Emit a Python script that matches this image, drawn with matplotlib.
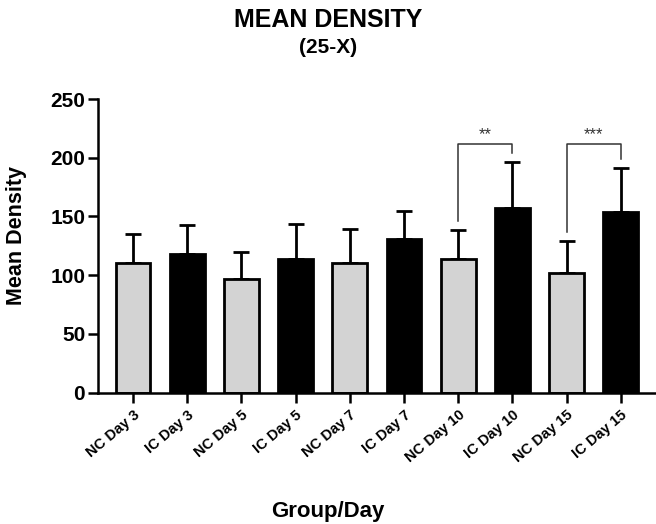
import matplotlib.pyplot as plt

groups = ['NC Day 3', 'IC Day 3', 'NC Day 5', 'IC Day 5', 'NC Day 7',
          'IC Day 7', 'NC Day 10', 'IC Day 10', 'NC Day 15', 'IC Day 15']
means = [110.6, 118.0, 96.8, 113.8, 110.6, 130.8, 113.5, 157.4, 102.1, 154.0]
sd = [24.2, 24.5, 22.9, 29.8, 28.4, 23.6, 25.0, 38.9, 27.0, 37.0]

# significance brackets: (left bar, right bar, top, left leg end, right leg end, label)
brackets = [(6, 7, 211.7, 146.4, 204.0, '**'),
            (8, 9, 211.7, 137.0, 198.9, '***')]

plt.rcParams['font.family'] = ['Liberation Sans', 'DejaVu Sans']
plt.rcParams['font.weight'] = 'bold'

fig = plt.figure(figsize=(6.56, 5.24), dpi=100)
ax = fig.add_axes([0.149, 0.2506, 0.851, 0.5604])

colors = ['#d3d3d3' if g.startswith('NC') else 'black' for g in groups]
x = list(range(len(groups)))
ax.errorbar(x, means, yerr=[[0] * len(sd), sd], fmt='none', ecolor='black',
            elinewidth=2.0, capsize=5.5, capthick=2.0, zorder=1)
ax.bar(x, means, width=0.64, color=colors, edgecolor='black', linewidth=2.0, zorder=2)

for l, r, top, yl, yr, label in brackets:
    ax.plot([l, l, r, r], [yl, top, top, yr], color='#333333', lw=1.1)
    ax.text((l + r) / 2, top + 2, label, ha='center', va='bottom', fontsize=12,
            color='#333333', fontweight='normal')

ax.set_xlim(-0.65, 9.65)
ax.set_ylim(0, 250)
ax.set_yticks([0, 50, 100, 150, 200, 250])
ax.set_xticks(x)
ax.set_xticklabels(groups, rotation=40, ha='right', rotation_mode='anchor', fontsize=10.5)
ax.tick_params(axis='y', labelsize=15, width=1.8, length=7, pad=2)
ax.tick_params(axis='x', width=1.8, length=7, pad=4)
for s in ['top', 'right']:
    ax.spines[s].set_visible(False)
for s in ['left', 'bottom']:
    ax.spines[s].set_linewidth(1.8)

ax.set_ylabel('Mean Density', fontsize=15.5, fontweight='bold')
ax.yaxis.set_label_coords((27 - 97.7) / 558, 0.534)
fig.text(0.5, 0.023, 'Group/Day', ha='center', va='center', fontsize=16)
fig.text(0.5, 0.961, 'MEAN DENSITY', ha='center', va='center', fontsize=18)
fig.text(0.5, 0.909, '(25-X)', ha='center', va='center', fontsize=15)

fig.savefig('out.png', dpi=100)
